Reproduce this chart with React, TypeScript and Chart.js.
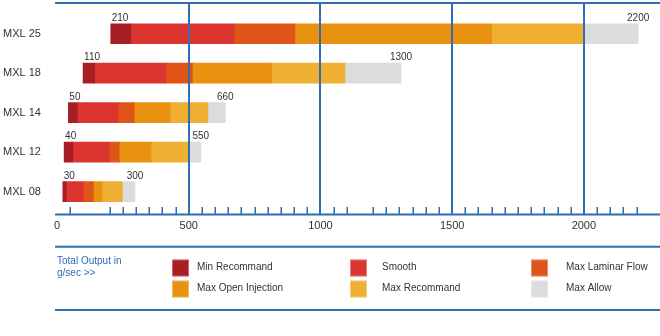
import React, { useEffect, useRef } from 'react';
import { Chart, registerables } from 'chart.js';

Chart.register(...registerables);

const categories = ['MXL 25', 'MXL 18', 'MXL 14', 'MXL 12', 'MXL 08'];
const barStart = [204, 99, 43, 27, 22];
const minRecommand = [280, 143, 77, 60, 35];
const smooth = [672, 413, 232, 198, 99];
const maxLaminarFlow = [903, 514, 293, 236, 138];
const maxOpenInjection = [1650, 815, 430, 357, 171];
const maxRecommand = [1995, 1093, 573, 499, 248];
const maxAllow = [2206, 1306, 639, 546, 296];
const minLabels = ['210', '110', '50', '40', '30'];
const maxLabels = ['2200', '1300', '660', '550', '300'];
const seriesNames = ['Min Recommand', 'Smooth', 'Max Laminar Flow', 'Max Open Injection', 'Max Recommand', 'Max Allow'];
const seriesColors = ['#a71f25', '#dc3530', '#e05418', '#e99211', '#eeaf33', '#dcdcdc'];
const majorTicks = [0, 500, 1000, 1500, 2000];
const minorTickStep = 50;
const minorTickMax = 2200;
const missingMinorTicks = [0, 100, 150, 1150];
const legendTitle = ['Total Output in', 'g/sec >>'];

const BLUE = '#2f6db5';
const FONT = '"Liberation Sans", Arial, sans-serif';

const decorPlugin = {
  id: 'decor',
  afterDatasetsDraw(chart: any) {
    const ctx = chart.ctx;
    const xs = chart.scales.x;
    const area = chart.chartArea;
    const W = chart.width;
    const left = area.left - 2;
    const topY = 3;
    const axisY = 214.5;
    ctx.save();
    ctx.strokeStyle = BLUE;
    // top line
    ctx.lineWidth = 2;
    ctx.beginPath();
    ctx.moveTo(left, topY);
    ctx.lineTo(W, topY);
    ctx.stroke();
    // major gridlines
    majorTicks.forEach((v) => {
      if (v === 0) return;
      const px = Math.round(xs.getPixelForValue(v));
      ctx.beginPath();
      ctx.moveTo(px, topY);
      ctx.lineTo(px, axisY);
      ctx.stroke();
    });
    // axis line
    ctx.beginPath();
    ctx.moveTo(left, axisY);
    ctx.lineTo(W, axisY);
    ctx.stroke();
    // minor ticks
    ctx.lineWidth = 1.5;
    for (let v = minorTickStep; v <= minorTickMax; v += minorTickStep) {
      if (v % 500 === 0 || missingMinorTicks.includes(v)) continue;
      const px = Math.round(xs.getPixelForValue(v)) + 0.25;
      ctx.beginPath();
      ctx.moveTo(px, 207);
      ctx.lineTo(px, axisY);
      ctx.stroke();
    }
    // data labels
    ctx.fillStyle = '#333';
    ctx.font = '10px ' + FONT;
    ctx.textBaseline = 'alphabetic';
    const meta = chart.getDatasetMeta(0);
    categories.forEach((_, i) => {
      const el: any = meta.data[i];
      const barTop = el.y - el.height / 2;
      const y = barTop - 3;
      ctx.textAlign = 'left';
      ctx.fillText(minLabels[i], xs.getPixelForValue(barStart[i]) + 1, y);
      ctx.textAlign = 'center';
      ctx.fillText(maxLabels[i], xs.getPixelForValue(maxAllow[i]), y);
    });
    // legend frame
    ctx.lineWidth = 2;
    [246.7, 310].forEach((ly) => {
      ctx.beginPath();
      ctx.moveTo(left, ly);
      ctx.lineTo(W, ly);
      ctx.stroke();
    });
    // legend title
    ctx.fillStyle = BLUE;
    ctx.textAlign = 'left';
    ctx.textBaseline = 'middle';
    ctx.font = '10px ' + FONT;
    ctx.fillText(legendTitle[0], 57, 261);
    ctx.fillText(legendTitle[1], 57, 273.5);
    // legend items
    const swatchX = [172, 350, 531];
    const textX = [197, 382, 566];
    const rowY = [268, 289];
    chart.data.datasets.forEach((ds: any, k: number) => {
      const col = k % 3;
      const row = Math.floor(k / 3);
      const cy = rowY[row];
      ctx.fillStyle = ds.backgroundColor;
      ctx.fillRect(swatchX[col], cy - 8.5, 17, 17);
      ctx.strokeStyle = 'rgba(255,255,255,0.35)';
      ctx.lineWidth = 1;
      ctx.strokeRect(swatchX[col] + 0.5, cy - 8, 16, 16);
      ctx.fillStyle = '#333';
      ctx.fillText(ds.label, textX[col], cy - 1);
    });
    ctx.restore();
  },
};

export default function App() {
  const ref = useRef<HTMLCanvasElement | null>(null);
  useEffect(() => {
    document.body.style.margin = '0';
    const boundaries = [barStart, minRecommand, smooth, maxLaminarFlow, maxOpenInjection, maxRecommand, maxAllow];
    const datasets = seriesNames.map((name, k) => ({
      label: name,
      data: categories.map((_, i) => [boundaries[k][i], boundaries[k + 1][i]]),
      backgroundColor: seriesColors[k],
      borderWidth: 0,
      borderSkipped: false,
      grouped: false,
      barThickness: 20,
    }));
    const chart = new Chart(ref.current as HTMLCanvasElement, {
      type: 'bar',
      data: { labels: categories, datasets: datasets as any },
      options: {
        indexAxis: 'y',
        responsive: false,
        animation: false,
        layout: { padding: { top: 14, left: 3, right: 0, bottom: 95.5 } },
        plugins: { legend: { display: false }, tooltip: { enabled: false } },
        scales: {
          x: {
            type: 'linear',
            min: 0,
            max: 2289,
            grid: { display: false, drawTicks: false },
            border: { display: false },
            ticks: {
              padding: 8,
              color: '#333',
              font: { family: FONT, size: 11 },
              maxRotation: 0,
              autoSkip: false,
              callback: (v: any) => String(v),
            },
            afterBuildTicks: (s: any) => {
              s.ticks = majorTicks.map((v) => ({ value: v }));
            },
          },
          y: {
            type: 'category',
            grid: { display: false, drawTicks: false },
            border: { display: false },
            ticks: {
              crossAlign: 'far',
              padding: 0,
              color: '#333',
              font: { family: FONT, size: 11 },
            },
            afterFit: (s: any) => {
              s.width = 54;
            },
          },
        },
      } as any,
      plugins: [decorPlugin],
    });
    return () => chart.destroy();
  }, []);
  return (
    <div style={{ width: 660, height: 336, position: 'relative', background: '#fff' }}>
      <canvas ref={ref} width={660} height={336} style={{ display: 'block' }} />
    </div>
  );
}
